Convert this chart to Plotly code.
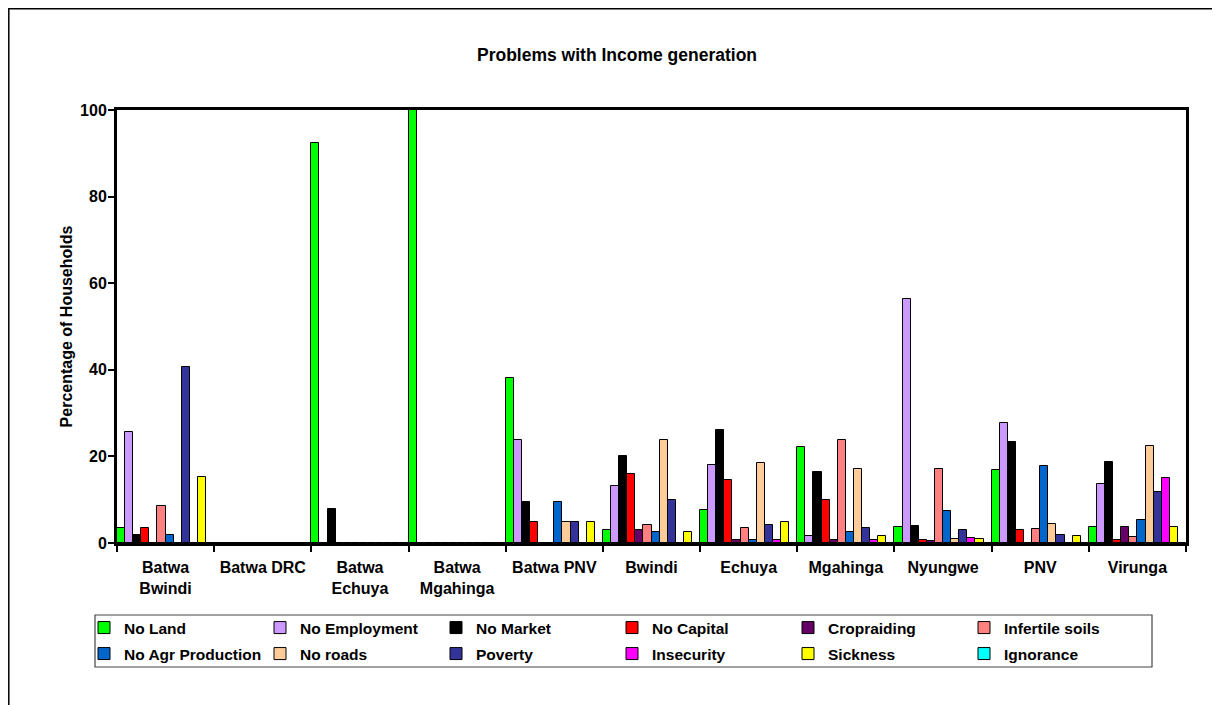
import plotly.graph_objects as go

categories = ["Batwa<br>Bwindi", "Batwa DRC", "Batwa<br>Echuya", "Batwa<br>Mgahinga", "Batwa PNV",
              "Bwindi", "Echuya", "Mgahinga", "Nyungwe", "PNV", "Virunga"]

series_names = ["No Land", "No Employment", "No Market", "No Capital", "Cropraiding", "Infertile soils",
                "No Agr Production", "No roads", "Poverty", "Insecurity", "Sickness", "Ignorance"]

no_land = [3.5, 0, 92.3, 100, 38.0, 3.0, 7.6, 22.2, 3.6, 16.8, 3.8]
no_employment = [25.6, 0, 0, 0, 23.8, 13.2, 17.9, 1.6, 56.4, 27.6, 13.6]
no_market = [1.8, 0, 7.9, 0, 9.5, 20.2, 26.1, 16.5, 4.0, 23.3, 18.7]
no_capital = [3.4, 0, 0, 0, 4.8, 15.9, 14.5, 9.9, 0.8, 3.0, 0.8]
cropraiding = [0, 0, 0, 0, 0, 3.0, 0.8, 0.8, 0.5, 0, 3.6]
infertile_soils = [8.6, 0, 0, 0, 0, 4.2, 3.5, 23.9, 17.0, 3.2, 1.5]
no_agr_production = [1.8, 0, 0, 0, 9.5, 2.5, 0.8, 2.5, 7.3, 17.8, 5.4]
no_roads = [0, 0, 0, 0, 4.8, 23.9, 18.5, 17.2, 1.0, 4.5, 22.4]
poverty = [40.7, 0, 0, 0, 4.8, 10.0, 4.2, 3.4, 3.1, 1.8, 11.7]
insecurity = [0, 0, 0, 0, 0, 0, 0.8, 0.8, 1.2, 0, 14.9]
sickness = [15.3, 0, 0, 0, 4.8, 2.6, 4.8, 1.7, 1.0, 1.6, 3.8]
ignorance = [0, 0, 0, 0, 0, 0, 0, 0, 0, 0, 0]

series_values = [no_land, no_employment, no_market, no_capital, cropraiding, infertile_soils,
                 no_agr_production, no_roads, poverty, insecurity, sickness, ignorance]

colors = ["#00FF00", "#CC99FF", "#000000", "#FF0000", "#660066", "#FF8080",
          "#0066CC", "#FFCC99", "#333399", "#FF00FF", "#FFFF00", "#00FFFF"]

y_ticks = [0, 20, 40, 60, 80, 100]

FONT = "Liberation Sans, Arial, sans-serif"

# page offset of the figure (body margin)
OFF = 8
W, H = 1220, 705
# plot area in page pixels
L, R, T, B = 117, 1186, 110, 543
PW, PH = R - L, B - T


def px(x):
    return (x - L) / PW


def py(y):
    return (B - y) / PH


fig = go.Figure()
for i, (name, vals, col) in enumerate(zip(series_names, series_values, colors)):
    fig.add_trace(go.Bar(
        name=name, x=categories, y=vals,
        marker=dict(color=col, line=dict(color="#000000", width=1)),
        legend="legend" if i < 6 else "legend2",
    ))

legend_common = dict(
    orientation="h", xanchor="left", yanchor="middle",
    font=dict(family=FONT, size=15.5, color="#000000", weight="bold"),
    bgcolor="rgba(0,0,0,0)", borderwidth=0,
    entrywidth=131, entrywidthmode="pixels",
    traceorder="normal",
)

fig.update_layout(
    width=W, height=H,
    margin=dict(l=L - OFF, r=W - (R - OFF), t=T - OFF, b=H - (B - OFF), autoexpand=False),
    paper_bgcolor="#FFFFFF", plot_bgcolor="#FFFFFF",
    barmode="group", bargap=0, bargroupgap=0,
    title=dict(text="Problems with Income generation", x=px(617), xref="paper", xanchor="center",
               y=1 - (55 - OFF) / H, yref="container", yanchor="middle",
               font=dict(family=FONT, size=17.5, color="#000000", weight="bold")),
    legend=dict(x=px(84), y=py(628), **legend_common),
    legend2=dict(x=px(84), y=py(654), **legend_common),
    xaxis=dict(
        type="category", showline=True, linewidth=3, linecolor="#000000", mirror=True,
        ticks="outside", tickson="boundaries", ticklen=6, tickwidth=2, tickcolor="#000000",
        showgrid=False, ticklabelstandoff=8,
        tickfont=dict(family=FONT, size=16, color="#000000", weight="bold"),
    ),
    yaxis=dict(
        range=[0, 100], tickvals=y_ticks, showline=True, linewidth=3, linecolor="#000000", mirror=True,
        ticks="outside", ticklen=6, tickwidth=2, tickcolor="#000000", showgrid=False, zeroline=False,
        ticklabelstandoff=-2,
        tickfont=dict(family=FONT, size=16, color="#000000", weight="bold"),
        title=dict(text="Percentage of Households", standoff=4,
                   font=dict(family=FONT, size=16, color="#000000", weight="bold")),
    ),
    shapes=[
        dict(type="rect", xref="paper", yref="paper", x0=px(95), x1=px(1152), y0=py(667), y1=py(615),
             line=dict(color="#444444", width=1.2), fillcolor="rgba(0,0,0,0)", layer="below"),
        dict(type="rect", xref="paper", yref="paper", x0=px(OFF + 0.8), x1=px(1260), y0=py(740),
             y1=py(OFF + 0.8), line=dict(color="#000000", width=1.5), fillcolor="rgba(0,0,0,0)",
             layer="below"),
    ],
)

fig.write_html("out.html")
